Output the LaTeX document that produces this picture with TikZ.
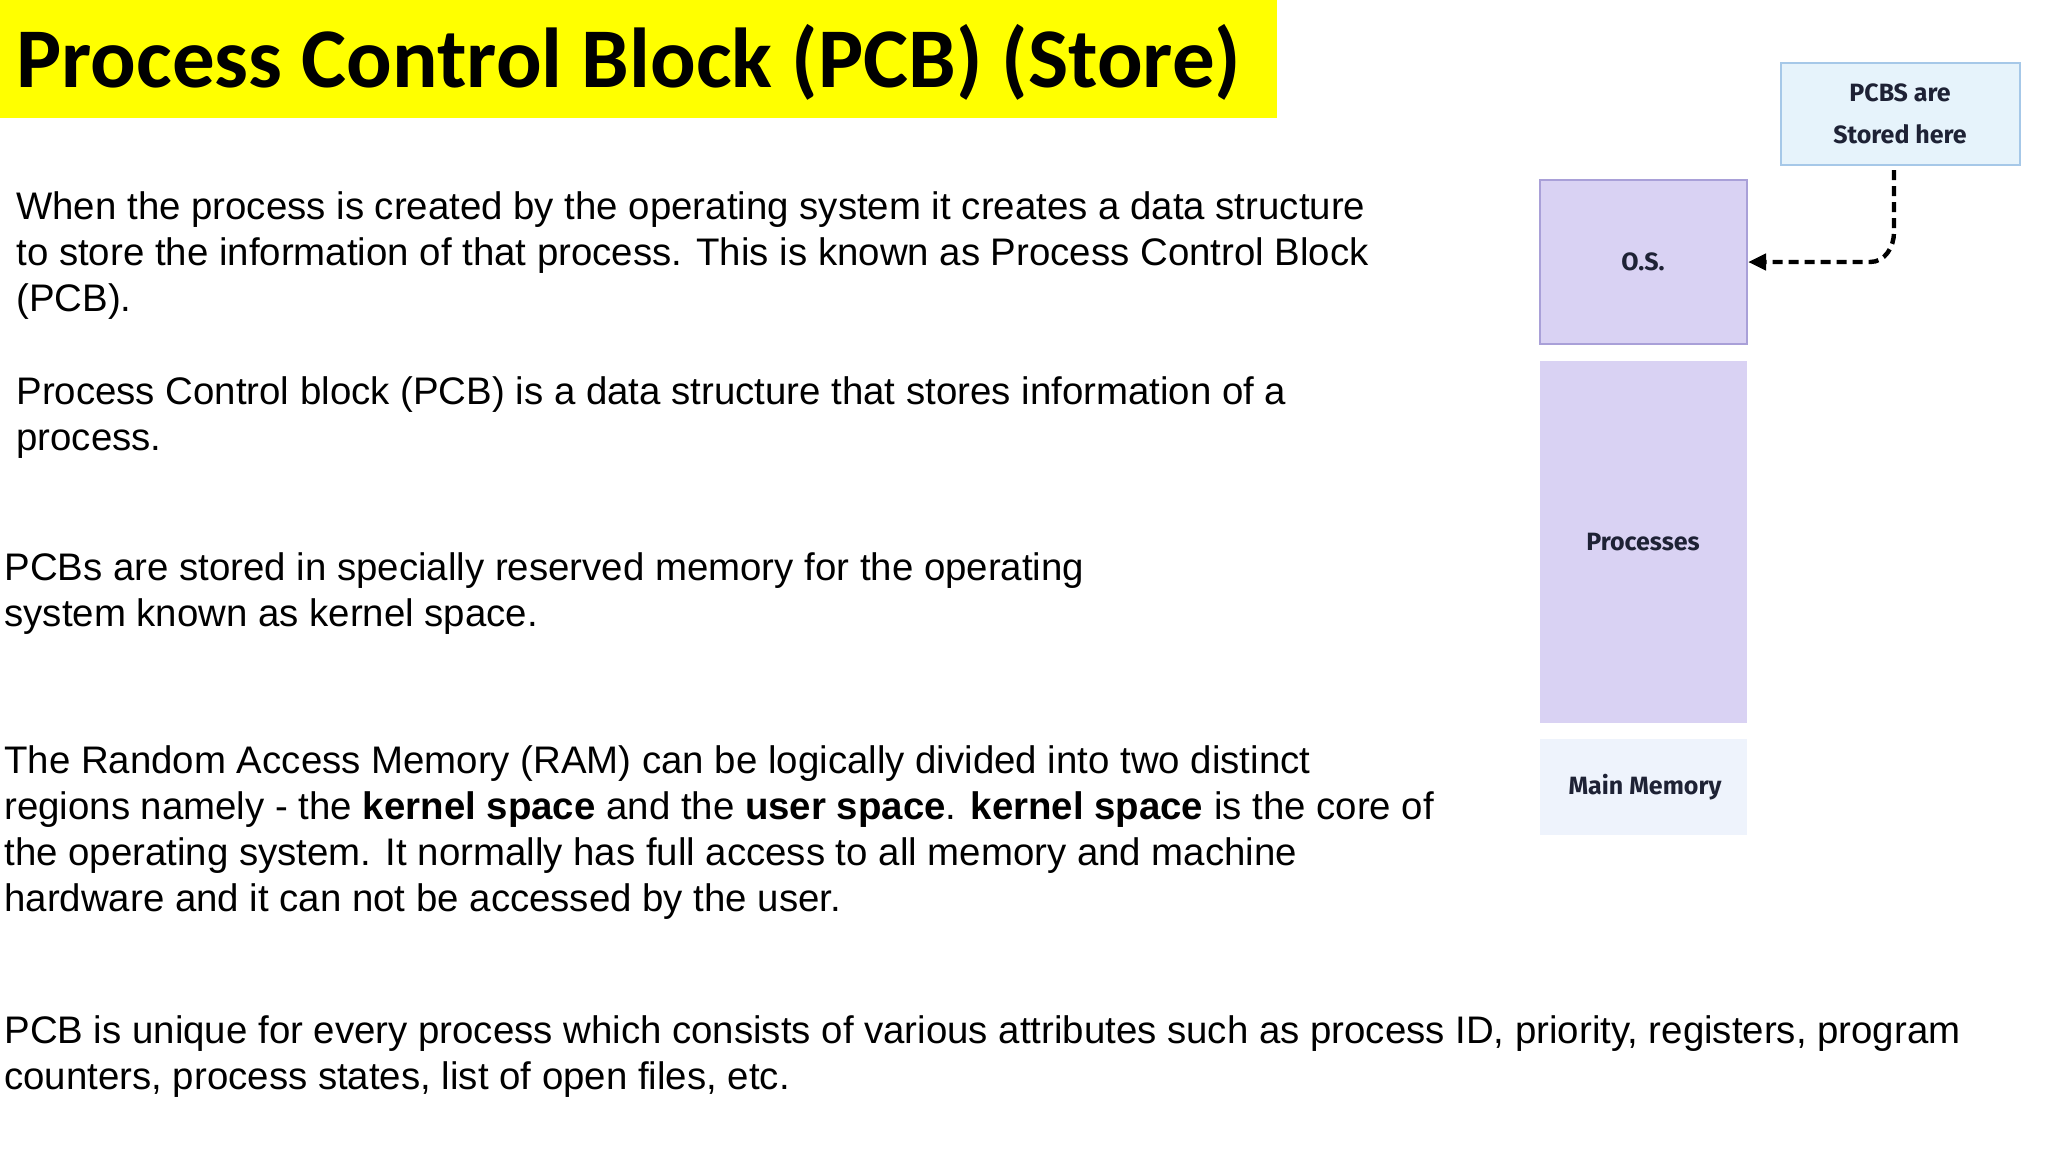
\documentclass[tikz,border=0pt]{standalone}
\usepackage{fontspec}
\setmainfont{Liberation Sans}
\newfontfamily\titlefont{Carlito}
\newfontfamily\boxfont{Fira Sans}
\usetikzlibrary{arrows.meta}
\definecolor{titleyellow}{HTML}{FFFF00}
\definecolor{osfill}{HTML}{D9D2F3}
\definecolor{osdraw}{HTML}{A9A0D8}
\definecolor{memfill}{HTML}{EEF3FC}
\definecolor{pcbfill}{HTML}{E6F3FB}
\definecolor{pcbdraw}{HTML}{A6C8E8}
\definecolor{boxtext}{HTML}{1E2235}
\begin{document}
\begin{tikzpicture}[x=0.5pt,y=-0.5pt,
  para/.style={anchor=north west,inner sep=0pt,align=left,font=\fontsize{19.2}{23}\selectfont},
  block/.style={inner sep=0pt,text=boxtext,font=\boxfont\fontsize{12.5}{15}\selectfont\bfseries}]
\useasboundingbox (0,0) rectangle (2048,1152);
% ===== title
\fill[titleyellow] (0,0) rectangle (1277,118);
\node (title) [anchor=west,inner sep=0pt,font=\titlefont\fontsize{42.5}{48}\selectfont\bfseries] at (16,62) {Process Control Block (PCB) (Store)};
% ===== text
\node (p1) [para] at (16,191) {When the process is created by the operating system it creates a data structure\\to store the information of that process. This is known as Process Control Block\\(PCB).};
\node (p2) [para] at (16,376) {Process Control block (PCB) is a data structure that stores information of a\\process.};
\node (p3) [para] at (4,552) {PCBs are stored in specially reserved memory for the operating\\system known as kernel space.};
\node (p4) [para] at (4,745) {The Random Access Memory (RAM) can be logically divided into two distinct\\regions namely - the \textbf{kernel space} and the \textbf{user space}. \textbf{kernel space} is the core of\\the operating system. It normally has full access to all memory and machine\\hardware and it can not be accessed by the user.};
\node (p5) [para] at (4,1015) {PCB is unique for every process which consists of various attributes such as process ID, priority, registers, program\\counters, process states, list of open files, etc.};
% ===== memory diagram
\draw[osdraw,fill=osfill,line width=1.2pt] (1540,180) rectangle (1747,344);
\node (os) [block] at (1643,262) {O.S.};
\coordinate (osE) at (1748,262);
\fill[osfill] (1540,361) rectangle (1747,723);
\node (proc) [block] at (1643,542) {Processes};
\fill[memfill] (1540,739) rectangle (1747,835);
\node (mem) [block] at (1645,787) {Main Memory};
\draw[pcbdraw,fill=pcbfill,line width=1pt] (1781,63) rectangle (2020,165);
\node (pcb) [block,align=center,font=\boxfont\fontsize{12.5}{21}\selectfont\bfseries] at (1900,114) {PCBS are\\Stored here};
\coordinate (pcbS) at (1894,170);
\draw[line width=2.2pt,dash pattern=on 5pt off 3pt,-{Triangle[length=9pt,width=8pt]}]
  (pcbS) -- (1894,232) to[out=270,in=0] (1870,262) -- (osE);
\end{tikzpicture}
\end{document}
